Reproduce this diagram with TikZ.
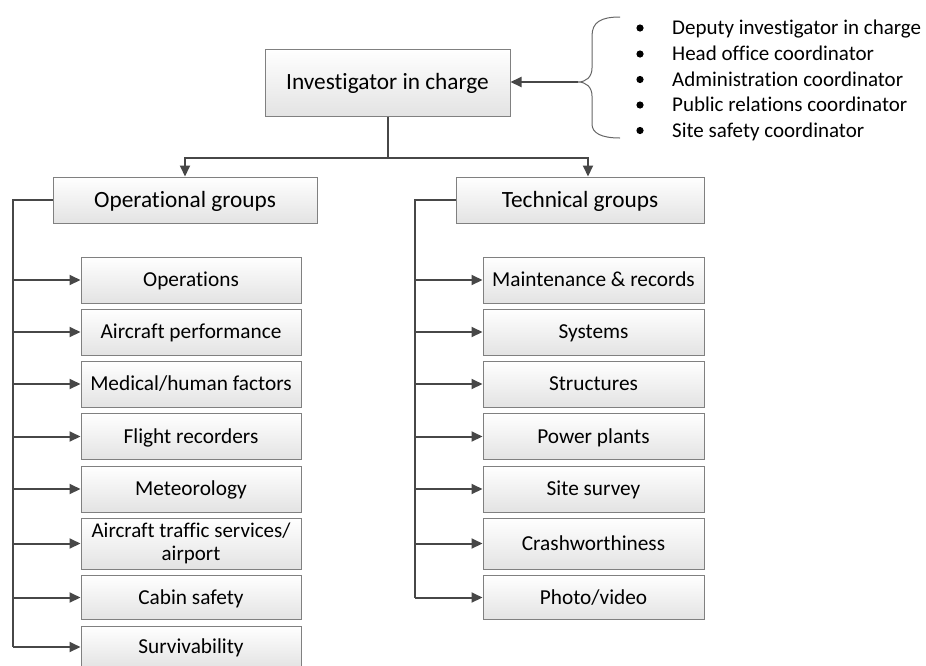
\documentclass[tikz,border=0pt]{standalone}
\usepackage{fontspec}
\setmainfont{Carlito}[Ligatures={NoCommon}]
\usetikzlibrary{arrows.meta,calc}
\begin{document}
\begin{tikzpicture}[x=1pt,y=-1pt,
  box/.style={draw=black!50, line width=1pt, top color=white, bottom color=black!11,
    minimum height=46pt, inner sep=0pt, align=center,
    font=\fontsize{21.3}{24}\selectfont},
  headbox/.style={box, text height=17.5pt, text depth=2.8pt, font=\fontsize{23.3}{26}\selectfont},
  lbox/.style={box, text height=16pt, text depth=2.5pt, minimum width=220pt},
  rbox/.style={box, text height=16pt, text depth=2.5pt, minimum width=221pt},
  link/.style={draw=black!72, line width=2pt},
  arr/.style={link, -{Triangle[length=11pt,width=10pt]}},
  item/.style={anchor=west, inner sep=0pt, text height=15.5pt, text depth=2.2pt,
    font=\fontsize{21}{24}\selectfont},
  bracket/.style={draw=black!60, line width=1pt}
]
\useasboundingbox (0,0) rectangle (926,665);
\clip (0,0) rectangle (926,665);

% head of the investigation
\node[headbox, minimum width=245pt, minimum height=67pt] (inv) at (387.5,82.5) {Investigator in charge};

% the two group heads
\node[headbox, minimum width=264pt] (opg) at (185,200) {Operational groups};
\node[headbox, minimum width=248pt] (tec) at (580,200) {Technical groups};

% operational groups
\node[lbox] (o1) at (191,280) {Operations};
\node[lbox] (o2) at (191,332) {Aircraft performance};
\node[lbox] (o3) at (191,384) {Medical/human factors};
\node[lbox] (o4) at (191,436.5) {Flight recorders};
\node[lbox] (o5) at (191,489) {Meteorology};
\node[box, minimum width=220pt, minimum height=51pt, font=\fontsize{21}{23}\selectfont] (o6) at (191,543.5) {Aircraft traffic services/\\airport};
\node[lbox, minimum height=44pt] (o7) at (191,597.5) {Cabin safety};
\node[lbox, minimum height=42pt] (o8) at (191,647) {Survivability};

% technical groups
\node[rbox] (t1) at (593.5,280) {Maintenance \& records};
\node[rbox] (t2) at (593.5,332) {Systems};
\node[rbox] (t3) at (593.5,384) {Structures};
\node[rbox] (t4) at (593.5,436.5) {Power plants};
\node[rbox] (t5) at (593.5,489) {Site survey};
\node[rbox, minimum height=51pt] (t6) at (593.5,543.5) {Crashworthiness};
\node[rbox, minimum height=44pt] (t7) at (593.5,597.5) {Photo/video};

% supporting roles
\node[item] (s1) at (672,28) {Deputy investigator in charge};
\node[item] (s2) at (672,54) {Head office coordinator};
\node[item] (s3) at (672,79.5) {Administration coordinator};
\node[item] (s4) at (672,105) {Public relations coordinator};
\node[item] (s5) at (672,130.5) {Site safety coordinator};
\foreach \s in {s1,s2,s3,s4,s5}
  \fill (640,0 |- \s.west) circle (3.6pt);

% curly bracket gathering the roles
\coordinate (tip) at (578,82);
\draw[bracket] (620,17) .. controls (601,17) and (592,22) .. (592,36) -- (592,68)
  .. controls (592,77) and (586,82) .. (tip)
  .. controls (586,82) and (592,87) .. (592,96) -- (592,124)
  .. controls (592,133) and (601,138) .. (620,138);
\draw[arr] (tip) -- (inv.east |- tip);

% split below the investigator
\coordinate (split) at ($(inv.south)+(0,41)$);
\coordinate (tecin) at ($(tec.north)+(8,0)$);
\draw[link] (inv.south) -- (split);
\draw[arr] (split) -| (opg.north);
\draw[arr] (split) -| (tecin);

% left trunk
\coordinate (lt) at (13,200);
\draw[link] (opg.west) -- (lt) -- (lt |- o8.west);
\foreach \b in {o1,o2,o3,o4,o5,o6,o7,o8}
  \draw[arr] (lt |- \b.west) -- (\b.west);

% right trunk
\coordinate (rt) at (415,200);
\draw[link] (tec.west) -- (rt) -- (rt |- t7.west);
\foreach \b in {t1,t2,t3,t4,t5,t6,t7}
  \draw[arr] (rt |- \b.west) -- (\b.west);
\end{tikzpicture}
\end{document}
